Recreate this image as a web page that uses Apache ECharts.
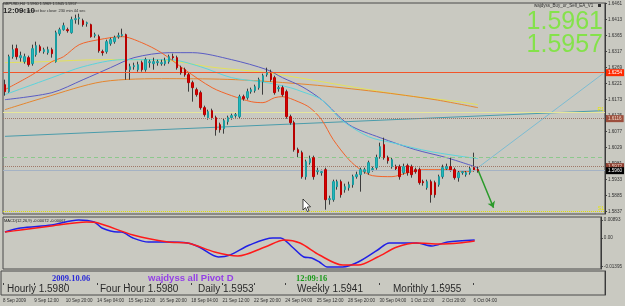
<!DOCTYPE html>
<html>
<head>
<meta charset="utf-8">
<title>GBPUSD,H4</title>
<script src="https://cdn.jsdelivr.net/npm/echarts@6/dist/echarts.min.js"></script>
<style>
  html, body { margin: 0; padding: 0; background: #c9c9c1; }
  #chart { width: 625px; height: 306px; }
</style>
</head>
<body>
<div id="chart"></div>
<script>
// H4 bars, 8 Sep 2009 04:00 .. 6 Oct 2009 12:00 -> [open, close, low, high]
const candles = [
  [1.6218,1.6197,1.6185,1.6233],[1.6197,1.6302,1.6194,1.6308],[1.6302,1.6323,1.6296,1.6338],[1.6326,1.6302,1.6293,1.6338],
  [1.6299,1.6305,1.6287,1.6317],[1.6287,1.6302,1.6281,1.6311],[1.6299,1.6278,1.6272,1.6305],[1.6281,1.6326,1.6275,1.6338],
  [1.6308,1.6335,1.6302,1.6347],[1.6332,1.6320,1.6314,1.6338],[1.6317,1.6323,1.6311,1.6329],[1.6314,1.6323,1.6308,1.6332],
  [1.6323,1.6311,1.6299,1.6329],[1.6287,1.6374,1.6284,1.6380],[1.6371,1.6383,1.6365,1.6389],[1.6383,1.6395,1.6380,1.6404],
  [1.6383,1.6380,1.6374,1.6389],[1.6374,1.6413,1.6371,1.6422],[1.6413,1.6416,1.6401,1.6428],[1.6416,1.6419,1.6398,1.6431],
  [1.6410,1.6398,1.6392,1.6416],[1.6401,1.6404,1.6392,1.6407],[1.6398,1.6362,1.6359,1.6401],[1.6365,1.6368,1.6359,1.6374],
  [1.6362,1.6320,1.6314,1.6368],[1.6317,1.6314,1.6305,1.6323],[1.6317,1.6347,1.6311,1.6353],[1.6341,1.6353,1.6335,1.6359],
  [1.6347,1.6359,1.6341,1.6365],[1.6362,1.6365,1.6356,1.6374],[1.6365,1.6368,1.6362,1.6386],[1.6368,1.6263,1.6233,1.6371],
  [1.6263,1.6272,1.6233,1.6281],[1.6272,1.6275,1.6263,1.6284],[1.6263,1.6278,1.6257,1.6287],[1.6284,1.6263,1.6257,1.6290],
  [1.6263,1.6293,1.6257,1.6299],[1.6284,1.6287,1.6269,1.6293],[1.6281,1.6287,1.6263,1.6299],[1.6284,1.6287,1.6275,1.6293],
  [1.6281,1.6284,1.6275,1.6293],[1.6281,1.6290,1.6275,1.6299],[1.6287,1.6302,1.6281,1.6308],[1.6302,1.6299,1.6293,1.6311],
  [1.6299,1.6269,1.6263,1.6305],[1.6269,1.6254,1.6248,1.6275],[1.6263,1.6248,1.6242,1.6269],[1.6248,1.6224,1.6197,1.6254],
  [1.6224,1.6209,1.6167,1.6230],[1.6203,1.6188,1.6182,1.6209],[1.6194,1.6149,1.6143,1.6200],[1.6149,1.6128,1.6122,1.6155],
  [1.6119,1.6137,1.6113,1.6143],[1.6140,1.6119,1.6113,1.6146],[1.6119,1.6083,1.6065,1.6125],[1.6098,1.6083,1.6074,1.6104],
  [1.6086,1.6110,1.6071,1.6116],[1.6107,1.6119,1.6098,1.6125],[1.6119,1.6125,1.6113,1.6131],[1.6125,1.6128,1.6119,1.6134],
  [1.6122,1.6182,1.6116,1.6188],[1.6182,1.6176,1.6170,1.6188],[1.6179,1.6197,1.6173,1.6206],[1.6197,1.6203,1.6191,1.6209],
  [1.6200,1.6212,1.6194,1.6218],[1.6209,1.6233,1.6203,1.6239],[1.6227,1.6245,1.6188,1.6251],[1.6248,1.6254,1.6242,1.6269],
  [1.6251,1.6233,1.6227,1.6263],[1.6239,1.6194,1.6188,1.6245],[1.6206,1.6209,1.6197,1.6215],[1.6209,1.6188,1.6182,1.6215],
  [1.6197,1.6122,1.6116,1.6203],[1.6122,1.6104,1.6098,1.6128],[1.6104,1.6023,1.6017,1.6110],[1.6023,1.6014,1.5999,1.6029],
  [1.6014,1.5942,1.5936,1.6020],[1.5942,1.5987,1.5933,1.5993],[1.5984,1.5996,1.5978,1.6005],[1.5999,1.5942,1.5933,1.6005],
  [1.5957,1.5960,1.5948,1.5969],[1.5954,1.5957,1.5945,1.5963],[1.5963,1.5873,1.5843,1.5969],[1.5873,1.5876,1.5858,1.5885],
  [1.5873,1.5927,1.5867,1.5933],[1.5912,1.5927,1.5903,1.5933],[1.5927,1.5888,1.5879,1.5933],[1.5903,1.5912,1.5894,1.5921],
  [1.5909,1.5918,1.5900,1.5927],[1.5918,1.5942,1.5909,1.5948],[1.5942,1.5948,1.5936,1.5957],[1.5948,1.5963,1.5897,1.5969],
  [1.5957,1.5963,1.5951,1.5969],[1.5954,1.5984,1.5948,1.5990],[1.5963,1.5966,1.5957,1.5972],[1.5969,1.5999,1.5963,1.6008],
  [1.6002,1.6032,1.5996,1.6044],[1.6038,1.5999,1.5993,1.6059],[1.5999,1.5990,1.5981,1.6005],[1.5972,1.5993,1.5966,1.5999],
  [1.5972,1.5966,1.5960,1.5978],[1.5972,1.5942,1.5933,1.5978],[1.5954,1.5972,1.5948,1.5981],[1.5975,1.5954,1.5945,1.5981],
  [1.5972,1.5948,1.5939,1.5978],[1.5963,1.5957,1.5951,1.5969],[1.5963,1.5924,1.5918,1.5969],[1.5927,1.5924,1.5915,1.5933],
  [1.5909,1.5927,1.5903,1.5933],[1.5927,1.5888,1.5864,1.5933],[1.5924,1.5888,1.5879,1.5930],[1.5918,1.5942,1.5912,1.5948],
  [1.5942,1.5969,1.5936,1.5978],[1.5966,1.5972,1.5960,1.5981],[1.5972,1.5963,1.5957,1.5999],[1.5963,1.5939,1.5933,1.5969],
  [1.5939,1.5954,1.5927,1.5960],[1.5954,1.5957,1.5948,1.5960],[1.5948,1.5954,1.5942,1.5960],[1.5954,1.5966,1.5948,1.5972],
  [1.5969,1.5963,1.5957,1.6014],[1.5963,1.5960,1.5954,1.5972]
];
const slotCount = 154; // bars + empty shift area on the right
const categories = Array.from({ length: slotCount }, (_, i) => i);
// one label every 8 bars
const timeLabels = ['8 Sep 2009', '9 Sep 12:00', '10 Sep 20:00', '14 Sep 04:00', '15 Sep 12:00', '16 Sep 20:00',
  '18 Sep 04:00', '21 Sep 12:00', '22 Sep 20:00', '24 Sep 04:00', '25 Sep 12:00', '28 Sep 20:00',
  '30 Sep 04:00', '1 Oct 12:00', '2 Oct 20:00', '6 Oct 04:00'];
const priceTicks = [1.6461, 1.6413, 1.6365, 1.6317, 1.6269, 1.6221, 1.6173, 1.6125, 1.6077, 1.6029, 1.5981, 1.5933, 1.5885, 1.5837];
const macdTicks = [0.00893, 0, -0.01395];

// moving averages, read at [bar, price]
const maFast = [[0,1.6203],[7,1.6248],[12,1.6287],[15,1.6302],[19,1.6338],[24,1.6353],[30,1.6362],[35,1.6344],[40,1.6314],
  [46,1.6263],[53,1.6209],[58,1.6185],[63,1.6167],[66,1.6164],[69,1.6179],[71,1.6182],[75,1.6167],[78,1.6149],[81,1.6113],
  [84,1.6053],[88,1.5993],[91,1.5963],[94,1.5945],[99,1.5942],[103,1.5954],[107,1.5963],[113,1.5963],[118,1.5957],[121,1.5963]];
const maSlow = [[0,1.6173],[12,1.6194],[20,1.6233],[27,1.6269],[33,1.6299],[42,1.6314],[48,1.6314],[58,1.6293],[67,1.6263],
  [71,1.6239],[76,1.6212],[81,1.6173],[88,1.6098],[96,1.6059],[105,1.6023],[113,1.5999],[121,1.5969]];
const maCyan = [[0,1.6188],[12,1.6239],[20,1.6272],[30,1.6293],[42,1.6293],[50,1.6272],[58,1.6239],[67,1.6224],[73,1.6209],
  [76,1.6197],[81,1.6173],[86,1.6113],[93,1.6062],[99,1.6044],[109,1.6017],[121,1.5996]];
const maYellow = [[0,1.6284],[10,1.6287],[25,1.6293],[38,1.6293],[54,1.6269],[67,1.6254],[78,1.6233],[90,1.6209],[103,1.6185],
  [116,1.6167],[121,1.6158]];
const maOrange = [[0,1.6143],[10,1.6179],[25,1.6227],[42,1.6236],[59,1.6233],[78,1.6218],[95,1.6197],[110,1.6173],[121,1.6149]];
const tealTrend = [[0,1.6063],[153,1.6140]];
const upTrend = [[121,1.5969],[153,1.6251]];
const signalArrow = [[121,1.5963],[125,1.5849]];
// horizontal levels: red line, R1, brown, green, brown, bid, S1
const levels = [1.6254, 1.6134, 1.6116, 1.5999, 1.5972, 1.5960, 1.5837];

const macdMain = [[0,0.00294],[4,0.0049],[12,0.00637],[19,0.00882],[23,0.00784],[25,0.0049],[29,0.00294],[30,0.00294],
  [33,0],[37,-0.00196],[42,-0.00196],[47,-0.00245],[50,-0.00441],[55,-0.00931],[58,-0.00833],[63,-0.00343],[69,0],[71,0],
  [74,-0.00441],[77,-0.00931],[79,-0.0098],[81,-0.01176],[83,-0.01421],[87,-0.01421],[91,-0.01176],[96,-0.00588],
  [99,-0.00245],[106,-0.00245],[110,-0.00392],[114,-0.00196],[121,-0.00098]];
const macdSignal = [[0,0.00294],[4,0.00392],[12,0.00588],[21,0.00784],[24,0.00735],[33,0.00147],[42,-0.00196],[47,-0.00245],
  [54,-0.00686],[60,-0.00882],[67,-0.00441],[72,-0.00098],[76,-0.00245],[81,-0.00833],[87,-0.01323],[91,-0.01323],
  [96,-0.00931],[101,-0.00441],[106,-0.00245],[112,-0.00294],[117,-0.00245],[121,-0.00147]];

const FONT = 'Liberation Sans';
const chart = echarts.init(document.getElementById('chart'));

function maLine(name, data, color) {
  return {
    name: name, type: 'line', data: data, xAxisIndex: 0, yAxisIndex: 0,
    showSymbol: false, smooth: 0.3, silent: true,
    lineStyle: { color: color, width: 1 }, z: 3
  };
}

// price label box at the right axis
function boxLabel(bg, fg) {
  return {
    show: true, position: 'end', distance: 1, formatter: p => Number(p.value).toFixed(4),
    fontFamily: FONT, fontSize: 4.6, color: fg, backgroundColor: bg, padding: [1, 2]
  };
}
function pivotLabel(text) {
  return { show: true, position: 'insideEndTop', distance: 1, formatter: text,
    fontFamily: FONT, fontSize: 5, color: '#e8e800' };
}

const levelStyles = [
  { lineStyle: { color: '#f2552a', type: 'solid', width: 1 }, label: boxLabel('#ff2a00', '#ffffff') },
  { lineStyle: { color: '#e6e69a', type: 'solid', width: 1 }, label: pivotLabel('R1') },
  { lineStyle: { color: '#a07868', type: 'dotted', width: 1 }, label: boxLabel('#9c4e3c', '#f0d8c8') },
  { lineStyle: { color: '#8cc88c', type: [4, 3], width: 1 }, label: { show: false } },
  { lineStyle: { color: '#a07868', type: 'dotted', width: 1 }, label: boxLabel('#8c3e30', '#f0d8c8') },
  { lineStyle: { color: '#a4b2c4', type: 'solid', width: 1 }, label: boxLabel('#000000', '#ffffff') },
  { lineStyle: { color: '#e0e000', type: 'dotted', width: 1 }, label: pivotLabel('S1') }
];

const option = {
  backgroundColor: '#c9c9c1',
  animation: false,
  grid: [
    { left: 3, top: 3, width: 602, height: 211, show: true, borderColor: '#4a4a4a', borderWidth: 1 },
    { left: 3, top: 217, width: 602, height: 52, show: true, borderColor: '#4a4a4a', borderWidth: 1 },
    { left: 0, top: 271, width: 605, height: 24, show: true, borderColor: '#4a4a4a', borderWidth: 1 }
  ],
  xAxis: [
    { type: 'category', data: categories, gridIndex: 0, boundaryGap: true, show: false },
    { type: 'category', data: categories, gridIndex: 1, boundaryGap: true, show: false },
    {
      type: 'category', data: categories, gridIndex: 2, boundaryGap: true,
      axisLine: { show: false },
      axisTick: { show: true, alignWithLabel: true, length: 2, lineStyle: { color: '#404040' },
        interval: i => i % 8 === 0 && i / 8 < timeLabels.length },
      axisLabel: {
        show: true, align: 'left', margin: 3, fontFamily: FONT, fontSize: 4.5, color: '#303030',
        interval: i => i % 8 === 0 && i / 8 < timeLabels.length,
        formatter: (v, i) => timeLabels[i / 8] || ''
      },
      splitLine: { show: false }
    }
  ],
  yAxis: [
    {
      type: 'value', gridIndex: 0, position: 'right', min: 1.5830, max: 1.6463,
      axisLine: { show: true, lineStyle: { color: '#3a3a3a' } },
      axisTick: { show: true, length: 2, customValues: priceTicks, lineStyle: { color: '#3a3a3a' } },
      axisLabel: { customValues: priceTicks, margin: 3, fontFamily: FONT, fontSize: 4.6, color: '#303030',
        formatter: v => v.toFixed(4) },
      splitLine: { show: false }
    },
    {
      type: 'value', gridIndex: 1, position: 'right', min: -0.0152, max: 0.0103,
      axisLine: { show: true, lineStyle: { color: '#3a3a3a' } },
      axisTick: { show: true, length: 2, customValues: macdTicks, lineStyle: { color: '#3a3a3a' } },
      axisLabel: { customValues: macdTicks, margin: 3, fontFamily: FONT, fontSize: 4.6, color: '#303030',
        formatter: v => (v === 0 ? '0.00' : v.toFixed(5)) },
      splitLine: { show: false }
    },
    {
      type: 'value', gridIndex: 2, position: 'right', min: -1, max: 1,
      axisLine: { show: true, lineStyle: { color: '#3a3a3a' } },
      axisTick: { show: false }, axisLabel: { show: false }, splitLine: { show: false }
    }
  ],
  series: [
    // horizontal levels (drawn under the bars)
    {
      name: 'levels', type: 'line', data: [], xAxisIndex: 0, yAxisIndex: 0, silent: true, z: 1,
      markLine: {
        silent: true, symbol: ['none', 'none'], animation: false, precision: 4,
        data: levels.map((v, i) => Object.assign({ yAxis: v }, levelStyles[i]))
      }
    },
    // wicks
    {
      name: 'wick', type: 'candlestick', data: candles, xAxisIndex: 0, yAxisIndex: 0, barWidth: 1, silent: true,
      itemStyle: { color: '#3c3c3c', color0: '#3c3c3c', borderColor: '#3c3c3c', borderColor0: '#3c3c3c', borderWidth: 1 },
      z: 4
    },
    // bodies
    {
      name: 'GBPUSD,H4', type: 'candlestick', xAxisIndex: 0, yAxisIndex: 0, barWidth: 2, silent: true,
      data: candles.map(d => [d[0], d[1], Math.min(d[0], d[1]), Math.max(d[0], d[1])]),
      itemStyle: { color: '#22b8bc', color0: '#d80000', borderColor: '#1a9ca0', borderColor0: '#b80000', borderWidth: 1 },
      z: 5
    },
    maLine('MA yellow', maYellow, '#e4e25a'),
    maLine('MA orange', maOrange, '#e5862e'),
    maLine('MA slow', maSlow, '#5a5cc4'),
    maLine('MA cyan', maCyan, '#5cd4dc'),
    maLine('MA fast', maFast, '#f2642a'),
    {
      name: 'trend', type: 'line', data: tealTrend, xAxisIndex: 0, yAxisIndex: 0, showSymbol: false, silent: true,
      lineStyle: { color: '#4a9cab', width: 1 }, z: 2
    },
    {
      name: 'trend up', type: 'line', data: upTrend, xAxisIndex: 0, yAxisIndex: 0, showSymbol: false, silent: true,
      lineStyle: { color: '#7cbcd2', width: 1 }, z: 2
    },
    {
      name: 'signal', type: 'line', data: [], xAxisIndex: 0, yAxisIndex: 0, silent: true, z: 6,
      markLine: {
        silent: true, symbol: ['none', 'arrow'], symbolSize: 6, precision: 4, label: { show: false },
        lineStyle: { color: '#2a9a2a', width: 1.5, type: 'solid' },
        data: [[{ coord: signalArrow[0] }, { coord: signalArrow[1] }]]
      }
    },
    // MACD
    {
      name: 'MACD', type: 'line', data: macdMain, xAxisIndex: 1, yAxisIndex: 1, showSymbol: false, smooth: 0.3,
      silent: true, lineStyle: { color: '#2020e6', width: 1.5 }
    },
    {
      name: 'Signal', type: 'line', data: macdSignal, xAxisIndex: 1, yAxisIndex: 1, showSymbol: false, smooth: 0.3,
      silent: true, lineStyle: { color: '#ff1a1a', width: 1.5 }
    }
  ],
  graphic: [
    { type: 'text', left: 3, top: 2, style: { text: 'GBPUSD,H4  1.5960 1.5969 1.5945 1.5957', font: '3.8px ' + FONT, fill: '#202020' } },
    { type: 'text', left: 17, top: 9, style: { text: 'Time to next bar close: 230 min 44 sec', font: '4px ' + FONT, fill: '#303030' } },
    { type: 'text', left: 3, top: 7, style: { text: '12:09:10', font: 'bold 8px ' + FONT, fill: '#2a2a2a' } },
    { type: 'text', left: 534, top: 3, style: { text: 'wajdyss_Buy_or_Sell_EA_V1', font: '4.5px ' + FONT, fill: '#303030' } },
    { type: 'rect', shape: { x: 598, y: 4, width: 3, height: 3 }, style: { fill: '#303030' } },
    { type: 'text', right: 22, top: 10, style: { text: '1.5961', font: '25px ' + FONT, fill: '#84e24a' } },
    { type: 'text', right: 22, top: 33, style: { text: '1.5957', font: '25px ' + FONT, fill: '#84e24a' } },
    { type: 'text', left: 4, top: 219, style: { text: 'MACD(12,26,9) -0.00072 -0.00067', font: '4px ' + FONT, fill: '#202020' } },
    // pivot panel
    { type: 'text', left: 52, top: 274, style: { text: '2009.10.06', font: 'bold 8.5px "Liberation Serif"', fill: '#2a2ad6' } },
    { type: 'text', left: 148, top: 273, style: { text: 'wajdyss all Pivot D', font: 'bold 9.5px ' + FONT, fill: '#9440e6' } },
    { type: 'text', left: 296, top: 274, style: { text: '12:09:16', font: 'bold 8.5px "Liberation Serif"', fill: '#1c9a1c' } },
    { type: 'text', left: 7, top: 284, style: { text: 'Hourly 1.5980', font: '10px ' + FONT, fill: '#2a2a2a' } },
    { type: 'text', left: 100, top: 284, style: { text: 'Four Hour 1.5980', font: '10px ' + FONT, fill: '#2a2a2a' } },
    { type: 'text', left: 198, top: 284, style: { text: 'Daily 1.5953', font: '10px ' + FONT, fill: '#2a2a2a' } },
    { type: 'text', left: 297, top: 284, style: { text: 'Weekly 1.5941', font: '10px ' + FONT, fill: '#2a2a2a' } },
    { type: 'text', left: 393, top: 284, style: { text: 'Monthly 1.5955', font: '10px ' + FONT, fill: '#2a2a2a' } },
    // mouse pointer
    { type: 'polygon', shape: { points: [[303, 199], [303, 210], [305.5, 207.6], [307.3, 211.5], [309, 210.7], [307.3, 207], [310.5, 206.8]] },
      style: { fill: '#ffffff', stroke: '#000000', lineWidth: 0.7 }, z: 100 }
  ]
};

chart.setOption(option);
</script>
</body>
</html>
